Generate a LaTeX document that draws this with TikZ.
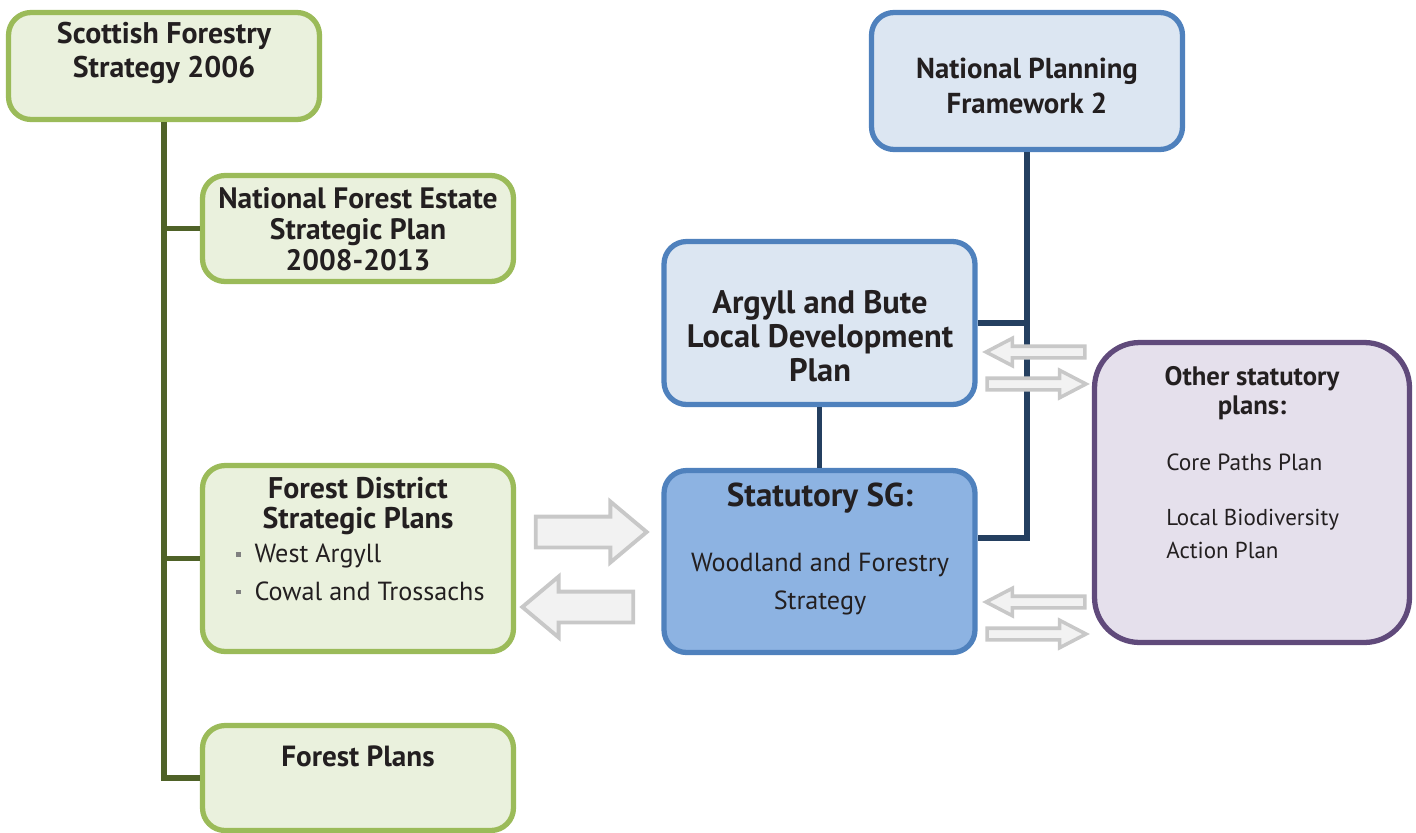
\documentclass[tikz,border=0pt]{standalone}
\usepackage{fontspec}
\setmainfont{PT Sans}
\usetikzlibrary{shapes.arrows}
\definecolor{GreenLine}{HTML}{9BBB59}
\definecolor{GreenFill}{HTML}{EAF1DD}
\definecolor{TrunkClr}{HTML}{4F6228}
\definecolor{BlueLine}{HTML}{4F81BD}
\definecolor{BlueFill}{HTML}{DCE6F2}
\definecolor{SGFill}{HTML}{8DB3E2}
\definecolor{LinkClr}{HTML}{243F60}
\definecolor{PurpleLine}{HTML}{604A7B}
\definecolor{PurpleFill}{HTML}{E5E0EC}
\definecolor{ArrowLine}{HTML}{C8C8C8}
\definecolor{ArrowFill}{HTML}{F2F2F2}
\definecolor{TextClr}{HTML}{231F20}

\begin{document}
\begin{tikzpicture}[x=0.02cm,y=-0.02cm,
  box/.style={draw,line width=3pt,rounded corners=0.45cm,inner sep=0pt,minimum width=6.22cm},
  greenbox/.style={box,draw=GreenLine,fill=GreenFill},
  bluebox/.style={box,draw=BlueLine,fill=BlueFill},
  sgbox/.style={box,draw=BlueLine,fill=SGFill},
  otherbox/.style={box,draw=PurpleLine,fill=PurpleFill,rounded corners=0.9cm},
  title/.style={text=TextClr,align=center,inner sep=0pt,font=\bfseries\fontsize{17}{19.8}\selectfont},
  plain/.style={text=TextClr,align=left,inner sep=0pt,font=\fontsize{14.9}{21.5}\selectfont},
  trunk/.style={draw=TrunkClr,line width=3pt},
  link/.style={draw=LinkClr,line width=3pt},
  bigarrow/.style={single arrow,draw=ArrowLine,fill=ArrowFill,line width=2.2pt,inner xsep=0pt,
    inner ysep=0.27cm,minimum height=2.22cm,single arrow head extend=0.3cm,single arrow tip angle=80},
  smallarrow/.style={single arrow,draw=ArrowLine,fill=ArrowFill,line width=2pt,inner xsep=0pt,
    inner ysep=0.08cm,minimum height=1.98cm,single arrow head extend=0.16cm,single arrow tip angle=55}]

\useasboundingbox (0,0) rectangle (1416,832);

% forestry side
\node[greenbox,minimum height=2.14cm] (sfs) at (164,66) {};
\node[title] (sfs-t) at (164,53) {Scottish Forestry\\Strategy 2006};

\node[greenbox,minimum height=2.12cm] (nfe) at (358,228.5) {};
\node[title,font=\bfseries\fontsize{16.8}{17.6}\selectfont] (nfe-t) at (358,229) {National Forest Estate\\Strategic Plan\\2008-2013};

\node[greenbox,minimum height=3.72cm] (fdsp) at (358,558.5) {};
\node[title,font=\bfseries\fontsize{17}{17}\selectfont] (fdsp-t) at (358,506) {Forest District\\Strategic Plans};
\node[plain,anchor=west] (fdsp-l) at (236,572) {{\color{gray}\rule[0.22em]{2.4pt}{2.4pt}}\hspace{8pt}West Argyll\\[0pt]{\color{gray}\rule[0.22em]{2.4pt}{2.4pt}}\hspace{8pt}Cowal and Trossachs};

\node[greenbox,minimum height=2.1cm] (fp) at (358,778) {};
\node[title,font=\bfseries\fontsize{16.6}{17}\selectfont] (fp-t) at (358,756) {Forest Plans};

\draw[trunk] (sfs.south) |- (fp.west);
\draw[trunk] (sfs.south |- nfe.west) -- (nfe.west);
\draw[trunk] (sfs.south |- fdsp.west) -- (fdsp.west);

% planning side
\node[bluebox,minimum height=2.74cm] (npf) at (1027,81) {};
\node[title,font=\bfseries\fontsize{16.4}{20.3}\selectfont] (npf-t) at (1027,86) {National Planning\\Framework 2};

\node[bluebox,minimum height=3.26cm] (ablp) at (819.5,323) {};
\node[title,font=\bfseries\fontsize{18.5}{19.3}\selectfont] (ablp-t) at (820,336) {Argyll and Bute\\Local Development\\Plan};

\node[sgbox,minimum height=3.64cm] (ssg) at (819.5,561.5) {};
\node[title,font=\bfseries\fontsize{18.8}{20}\selectfont] (ssg-t) at (820,498) {Statutory SG:};
\node[plain,align=center] (ssg-b) at (820,584) {Woodland and Forestry\\Strategy};

\node[otherbox,minimum width=6.3cm,minimum height=6cm] (oth) at (1252,492.5) {};
\node[title,font=\bfseries\fontsize{15.2}{16.5}\selectfont] (oth-t) at (1252,393) {Other statutory\\plans:};
\node[plain,anchor=west,font=\fontsize{13.3}{19}\selectfont] (oth-a) at (1166,462) {Core Paths Plan};
\node[plain,anchor=west,font=\fontsize{13.1}{19}\selectfont] (oth-b) at (1166,534) {Local Biodiversity\\Action Plan};

\coordinate (j1) at (1027,538);
\draw[link] (npf.south) -- (j1) -- (j1 -| ssg.east);
\draw[link] (ablp.east) -- (ablp.east -| npf.south);
\draw[link] (ablp.south) -- (ssg.north);

% block arrows
\node[bigarrow] (ar1) at (582,532) {};
\node[bigarrow,shape border rotate=180] (ar2) at (587,607) {};
\node[smallarrow,shape border rotate=180] (ar3) at (1041,352) {};
\node[smallarrow] (ar4) at (1031,384) {};
\node[smallarrow,shape border rotate=180] (ar5) at (1041,602) {};
\node[smallarrow] (ar6) at (1031,634) {};

\end{tikzpicture}
\end{document}
